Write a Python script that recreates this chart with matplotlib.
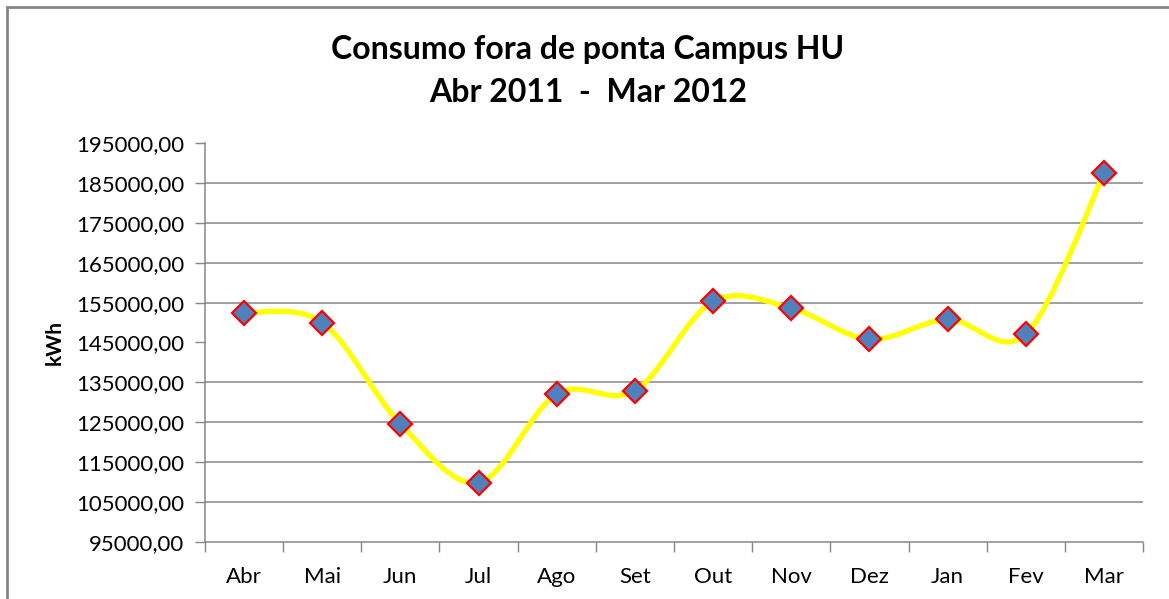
import numpy as np
import matplotlib
matplotlib.use("Agg")
import matplotlib.pyplot as plt
from matplotlib.path import Path
from matplotlib.patches import PathPatch, Rectangle

# ── data ────────────────────────────────────────────────────────────────────
meses = ["Abr", "Mai", "Jun", "Jul", "Ago", "Set",
         "Out", "Nov", "Dez", "Jan", "Fev", "Mar"]
consumo = [152500, 150000, 124600, 109900, 132100, 132900,
           155300, 153600, 145800, 150800, 147100, 187400]
y_ticks = [95000, 105000, 115000, 125000, 135000, 145000,
           155000, 165000, 175000, 185000, 195000]
grid_off = [145000, 195000]   # lines not visible in the picture

GRAY = "#868686"
plt.rcParams["font.family"] = ["Lato", "DejaVu Sans"]


def smooth_path(xs, ys):
    """Excel-style smoothed line: cubic Bezier, Catmull-Rom control points."""
    pts = np.column_stack([xs, ys]).astype(float)
    ext = np.vstack([pts[0], pts, pts[-1]])
    verts, codes = [pts[0]], [Path.MOVETO]
    for i in range(1, len(ext) - 2):
        p0, p1, p2, p3 = ext[i - 1], ext[i], ext[i + 1], ext[i + 2]
        verts += [p1 + (p2 - p0) / 6, p2 - (p3 - p1) / 6, p2]
        codes += [Path.CURVE4] * 3
    return Path(verts, codes)


fig = plt.figure(figsize=(11.69, 5.99), dpi=100)
ax = fig.add_axes([205 / 1169, 57 / 599, 938 / 1169, 399 / 599])

x = np.arange(len(meses))
ax.add_patch(PathPatch(smooth_path(x, consumo), fill=False,
                       edgecolor="#FFFF00", lw=3.8, zorder=3,
                       capstyle="round", joinstyle="round"))
ax.plot(x, consumo, ls="none", marker="D", ms=12.5, mfc="#4F81BD",
        mec="#FF0000", mew=1.6, zorder=4)

ax.set_xlim(-0.5, len(meses) - 0.5)
ax.set_ylim(y_ticks[0], y_ticks[-1])
ax.set_yticks(y_ticks)
ax.set_yticklabels([f"{v},00" for v in y_ticks])
ax.set_xticks(x)
ax.set_xticklabels(meses)
ax.set_xticks(np.arange(-0.5, len(meses)), minor=True)
ax.tick_params(axis="x", which="major", length=0, pad=18,
               labelsize=16, colors="black")
ax.tick_params(axis="x", which="minor", length=7, color=GRAY, width=1)
ax.tick_params(axis="y", length=7, color=GRAY, width=1, pad=8,
               labelsize=16, labelcolor="black")

for v in y_ticks[1:]:
    if v not in grid_off:
        ax.axhline(v, color=GRAY, lw=1.1, zorder=1)

for s in ["top", "right"]:
    ax.spines[s].set_visible(False)
for s in ["left", "bottom"]:
    ax.spines[s].set_color(GRAY)
    ax.spines[s].set_linewidth(1.1)

ax.set_ylabel("kWh", fontsize=15, fontweight="bold", labelpad=8)

fig.text(588 / 1169, 1 - 50 / 599, "Consumo fora de ponta Campus HU",
         ha="center", va="center", fontsize=23, fontweight="bold")
fig.text(588 / 1169, 1 - 92 / 599, "Abr 2011  -  Mar 2012",
         ha="center", va="center", fontsize=23, fontweight="bold")

# chart area border (cut off at right and bottom)
fig.patches.append(Rectangle((7 / 1169, -0.1), 1.2, 1 - 7 / 599 + 0.1,
                             transform=fig.transFigure, fill=False,
                             edgecolor=GRAY, lw=2))

fig.savefig("out.png", dpi=100)
